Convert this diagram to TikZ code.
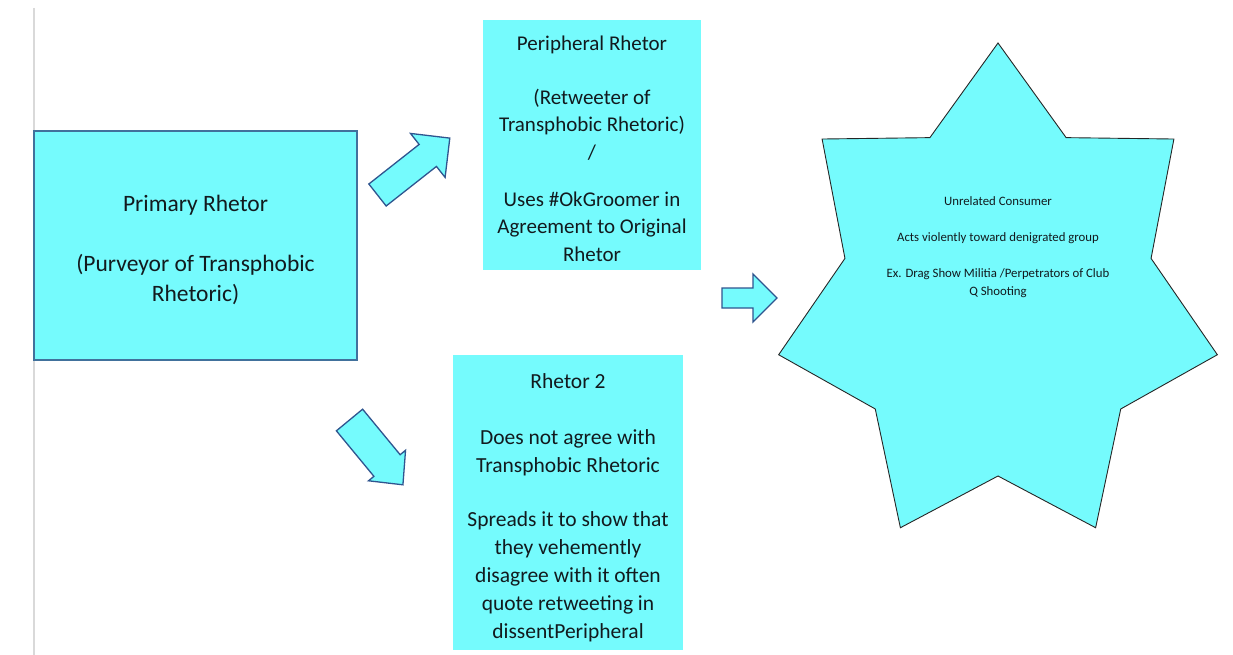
\documentclass[tikz,border=0pt]{standalone}
\usepackage{fontspec}
\setmainfont{Carlito}
\usetikzlibrary{positioning}

\definecolor{boxcyan}{RGB}{117,251,253}
\definecolor{boxline}{RGB}{65,113,156}
\definecolor{arrowline}{RGB}{47,85,143}
\definecolor{txtdark}{RGB}{18,26,30}

\tikzset{
    rhetorbox/.style={fill=boxcyan, inner sep=0pt},
    boxtext/.style={text=txtdark, align=center, inner sep=0pt},
    arrowshape/.style={fill=boxcyan, draw=arrowline, line width=1.3pt, line join=miter},
    starline/.style={fill=boxcyan, draw=black!85, line width=0.9pt, line join=miter}
}

% tail point, angle, length, shaft half width, head half width, head length
\newcommand{\blockarrow}[6]{%
    \draw[arrowshape, shift={(#1)}, rotate=#2]
        (0,-#4) -- ({#3-#6},-#4) -- ({#3-#6},-#5) -- (#3,0)
        -- ({#3-#6},#5) -- ({#3-#6},#4) -- (0,#4) -- cycle;
}

\begin{document}
\begin{tikzpicture}[x=1pt,y=-1pt]
    \useasboundingbox (0,0) rectangle (1233,655);
    \draw[black!15, line width=1.2pt] (34,8) -- (34,655);

    \node[rhetorbox, draw=boxline, line width=1.5pt, minimum width=323pt, minimum height=229pt] (primary) at (195.5,245.5) {};
    \node[boxtext, font=\fontsize{23.5}{30}\selectfont] (primary text) at ([yshift=-4pt]primary.center)
        {Primary Rhetor\\[30pt](Purveyor of Transphobic\\Rhetoric)};

    \node[rhetorbox, minimum width=218pt, minimum height=250pt] (peripheral) at (592,145) {};
    \node[boxtext, font=\fontsize{21}{27.3}\selectfont] (peripheral text) at ([yshift=-3.5pt]peripheral.center)
        {Peripheral Rhetor\\[27pt](Retweeter of\\Transphobic Rhetoric)\\/\\[20pt]Uses \#OkGroomer in\\Agreement to Original\\Rhetor};

    \node[rhetorbox, minimum width=230pt, minimum height=295pt] (rhetor2) at (568,502.5) {};
    \node[boxtext, font=\fontsize{21.5}{28}\selectfont] (rhetor2 text) at ([yshift=-5pt]rhetor2.center)
        {Rhetor 2\\[28pt]Does not agree with\\Transphobic Rhetoric\\[26pt]Spreads it to show that\\they vehemently\\disagree with it often\\quote retweeting in\\dissentPeripheral};

    % seven pointed star
    \coordinate (star c) at (998,298);
    \begin{scope}[shift={(star c)}]
        \draw[starline] (-90:225 and 255)
            \foreach \m in {0,...,6}{
                -- ({-90+\m*360/7+180/7}:157 and 178)
                -- ({-90+(\m+1)*360/7}:225 and 255)
            } -- cycle;
    \end{scope}
    \node[boxtext, font=\fontsize{12.8}{18}\selectfont] (consumer) at (998,247)
        {Unrelated Consumer\\[18pt]Acts violently toward denigrated group\\[18pt]Ex. Drag Show Militia /Perpetrators of Club\\Q Shooting};

    % block arrows
    \coordinate (up tail) at (377.5,195);
    \coordinate (down tail) at (349.5,420);
    \coordinate (right tail) at (722,298);
    \blockarrow{up tail}{38.2}{92}{14}{28}{28}
    \blockarrow{down tail}{-50.5}{84}{17}{24}{25}
    \blockarrow{right tail}{0}{55}{10}{24}{24}
\end{tikzpicture}
\end{document}
